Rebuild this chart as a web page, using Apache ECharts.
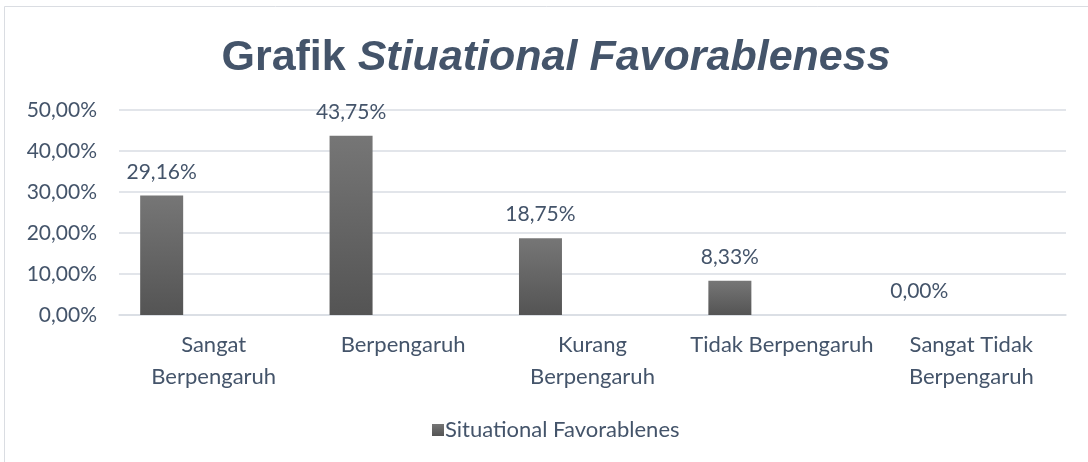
<!DOCTYPE html>
<html>
<head>
<meta charset="utf-8">
<script src="https://cdn.jsdelivr.net/npm/echarts@6/dist/echarts.min.js"></script>
<style>
  html, body { margin: 0; padding: 0; background: #fff; }
  #main { width: 1088px; height: 462px; }
</style>
</head>
<body>
<div id="main"></div>
<script>
// data
var categories = ['Sangat\nBerpengaruh', 'Berpengaruh', 'Kurang\nBerpengaruh', 'Tidak Berpengaruh', 'Sangat Tidak\nBerpengaruh'];
var favorableValues = [29.16, 43.75, 18.75, 8.33, 0];
// the sheet has an empty second series, which pushes the bars to the left of each slot
var emptyValues = [null, null, null, null, null];
var yTicks = [0, 10, 20, 30, 40, 50];

var textColor = '#44546a';
var font = 'Lato';
var barFill = new echarts.graphic.LinearGradient(0, 0, 0, 1, [
  { offset: 0, color: '#767676' },
  { offset: 1, color: '#545454' }
]);

function pct(v) {
  return v.toFixed(2).replace('.', ',') + '%';
}

var chart = echarts.init(document.getElementById('main'), null, { renderer: 'canvas' });
var option = {
  backgroundColor: '#fff',
  animation: false,
  graphic: [{
    type: 'rect',
    shape: { x: 4.5, y: 6.5, width: 1200, height: 600 },
    style: { fill: 'none', stroke: '#dadde2', lineWidth: 1 },
    silent: true
  }],
  title: {
    text: '{a|Grafik }{b|Stiuational Favorableness}',
    left: 551,
    textAlign: 'center',
    top: 32,
    textStyle: {
      rich: {
        a: { fontFamily: 'Liberation Sans', fontWeight: 'bold', fontSize: 43, color: textColor },
        b: { fontFamily: 'Liberation Sans', fontWeight: 'bold', fontStyle: 'italic', fontSize: 43, color: textColor }
      }
    }
  },
  legend: {
    data: ['Situational Favorablenes'],
    left: 427,
    top: 414,
    itemWidth: 12,
    itemHeight: 12,
    itemGap: 10,
    icon: 'rect',
    textStyle: { color: textColor, fontFamily: font, fontSize: 22, padding: [0, 0, 0, -4] }
  },
  grid: { left: 119, right: 22, top: 110, bottom: 147, containLabel: false },
  xAxis: {
    type: 'category',
    data: categories,
    axisTick: { show: false },
    axisLine: { lineStyle: { color: '#d9dde3', width: 1.5 } },
    axisLabel: {
      color: textColor,
      fontFamily: font,
      fontSize: 22,
      lineHeight: 32,
      margin: 14,
      interval: 0
    }
  },
  yAxis: {
    type: 'value',
    min: yTicks[0],
    max: yTicks[yTicks.length - 1],
    interval: 10,
    axisLine: { show: false },
    axisTick: { show: false },
    splitLine: { lineStyle: { color: '#d9dde3', width: 1.5 } },
    axisLabel: {
      color: textColor,
      fontFamily: font,
      fontSize: 21,
      margin: 22,
      formatter: function (v) { return pct(v); }
    }
  },
  series: [{
    name: 'Situational Favorablenes',
    type: 'bar',
    data: favorableValues,
    barWidth: 43,
    barGap: '142%',
    itemStyle: { color: barFill },
    label: {
      show: true,
      position: 'top',
      distance: 13,
      color: textColor,
      fontFamily: font,
      fontSize: 21,
      formatter: function (p) { return pct(p.value); }
    }
  }, {
    name: 'Series2',
    type: 'bar',
    data: emptyValues,
    barWidth: 43
  }]
};
chart.setOption(option);
</script>
</body>
</html>
